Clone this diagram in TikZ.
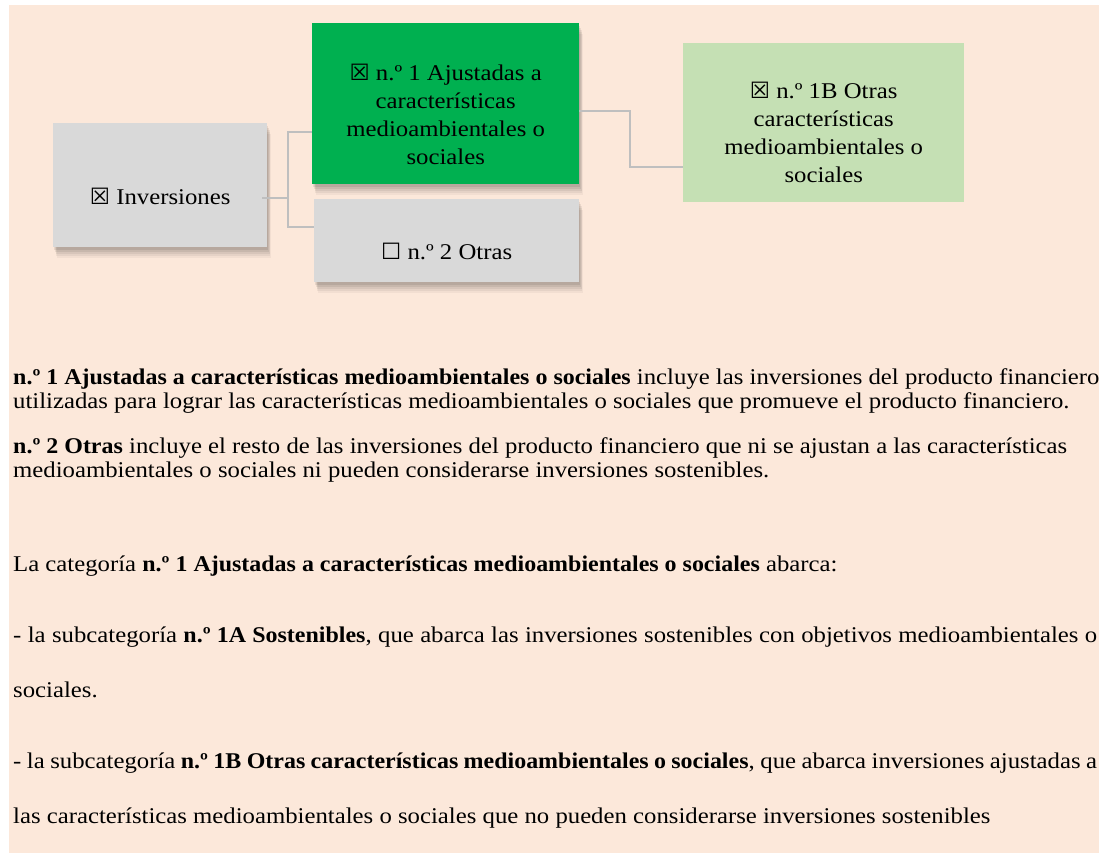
\documentclass[tikz,border=0pt]{standalone}
\usepackage{fontspec}
\setmainfont{Liberation Serif}[FakeStretch=1.1,BoldFeatures={FakeStretch=1.065}]
\newfontfamily\symfont{DejaVu Sans}
\usepackage{tikz}
\usetikzlibrary{shadows}
\definecolor{peach}{RGB}{252,232,218}
\definecolor{boxgrey}{RGB}{217,217,217}
\definecolor{boxgreen}{RGB}{0,176,80}
\definecolor{palegreen}{RGB}{197,224,180}
\definecolor{linkgrey}{RGB}{191,191,191}
\newcommand{\marked}{{\symfont\char"2612}}
\newcommand{\unmarked}{{\symfont\char"2610}}
\tikzset{
  shadowed/.style={
    general shadow={fill=black,opacity=.04,shadow xshift=4pt,shadow yshift=-11pt},
    general shadow={fill=black,opacity=.05,shadow xshift=3pt,shadow yshift=-9pt},
    general shadow={fill=black,opacity=.06,shadow xshift=3pt,shadow yshift=-7pt},
    general shadow={fill=black,opacity=.07,shadow xshift=2pt,shadow yshift=-5pt},
    general shadow={fill=black,opacity=.08,shadow xshift=1pt,shadow yshift=-3pt}},
  cardbox/.style={anchor=north west,draw=none},
  cardtext/.style={align=center,font=\fontsize{22.5}{28}\selectfont},
  link/.style={draw=linkgrey,line width=2pt},
  bodyline/.style={anchor=base west,font=\fontsize{22.5}{25}\selectfont}
}

\begin{document}
\begin{tikzpicture}[x=1pt,y=1pt]
\tikzstyle{every node}+=[inner sep=0pt]
\useasboundingbox (0,0) rectangle (1106,-853);
\fill [white] (0,0) rectangle (1106,-853);
\fill [peach] (9,-5) rectangle (1099,-853);
\node [cardbox,shadowed,fill=boxgrey,minimum width=214,minimum height=124] (inv) at (53,-123) {};
\node [cardbox,shadowed,fill=boxgreen,minimum width=267,minimum height=161] (ajust) at (312,-23) {};
\node [cardbox,shadowed,fill=boxgrey,minimum width=265,minimum height=83] (otras) at (314,-199) {};
\node [cardbox,fill=palegreen,minimum width=281,minimum height=159] (otrasb) at (683,-43) {};
\node [cardtext] (inv-t) at ([yshift=-11]inv.center) {\marked\ Inversiones};
\node [cardtext] (ajust-t) at ([yshift=-11]ajust.center) {\marked\ n.º 1 Ajustadas a\\características\\medioambientales o\\sociales};
\node [cardtext] (otras-t) at ([yshift=-11]otras.center) {\unmarked\ n.º 2 Otras};
\node [cardtext] (otrasb-t) at ([yshift=-10]otrasb.center) {\marked\ n.º 1B Otras\\características\\medioambientales o\\sociales};
\draw [link] ([shift={(-5,-13)}]inv.east) -- ++(26,0) coordinate (fork);
\draw [link] (fork) |- ([yshift=-28.5]ajust.west);
\draw [link] (fork) |- ([yshift=13.5]otras.west);
\draw [link] ([yshift=-7.5]ajust.east) -- ++(51,0) |- ([yshift=-44.5]otrasb.west);
\node [bodyline] (p1a) at (13,-384) {\textbf{n.º 1 Ajustadas a características medioambientales o sociales} incluye las inversiones del producto financiero};
\node [bodyline] (p1b) at (13,-408) {utilizadas para lograr las características medioambientales o sociales que promueve el producto financiero.};
\node [bodyline] (p2a) at (13,-453) {\textbf{n.º 2 Otras} incluye el resto de las inversiones del producto financiero que ni se ajustan a las características};
\node [bodyline] (p2b) at (13,-477) {medioambientales o sociales ni pueden considerarse inversiones sostenibles.};
\node [bodyline] (p3) at (13,-571) {La categoría \textbf{n.º 1 Ajustadas a características medioambientales o sociales} abarca:};
\node [bodyline] (p4a) at (13,-642) {\makebox[1084pt][s]{- la subcategoría \textbf{n.º 1A Sostenibles}, que abarca las inversiones sostenibles con objetivos medioambientales o}};
\node [bodyline] (p4b) at (13,-697) {sociales.};
\node [bodyline] (p5a) at (13,-768) {\makebox[1084pt][s]{- la subcategoría \textbf{n.º 1B Otras características medioambientales o sociales}, que abarca inversiones ajustadas a}};
\node [bodyline] (p5b) at (13,-823) {las características medioambientales o sociales que no pueden considerarse inversiones sostenibles};
\end{tikzpicture}
\end{document}
